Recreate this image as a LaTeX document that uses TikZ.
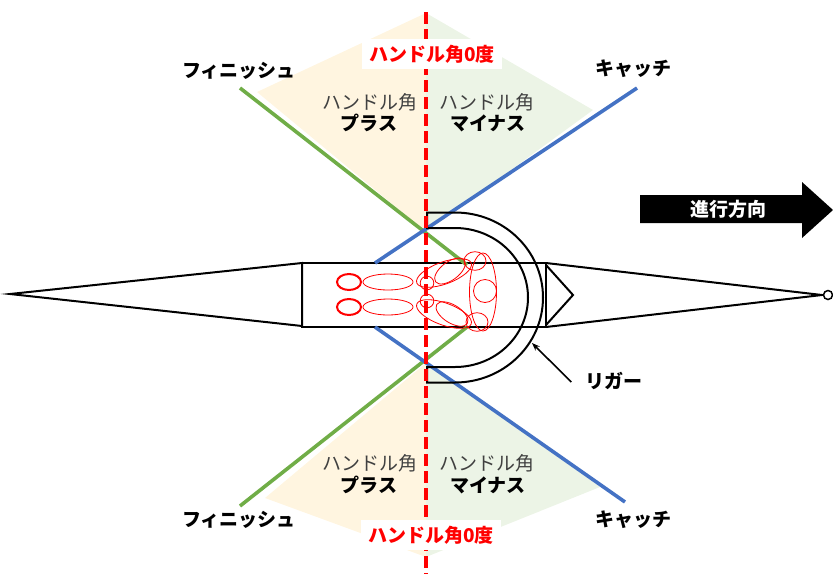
\documentclass[tikz,border=0pt]{standalone}
\usepackage{fontspec}
\setmainfont{Noto Sans CJK JP}
\usetikzlibrary{arrows.meta}
\definecolor{oargreen}{RGB}{112,173,71}
\definecolor{oarblue}{RGB}{68,114,196}
\definecolor{plusfill}{RGB}{255,245,224}
\definecolor{minusfill}{RGB}{236,244,230}
\definecolor{zerored}{RGB}{255,0,0}
\begin{document}
\begin{tikzpicture}[x=1pt,y=-1pt,
  hull/.style={draw=black,line width=2pt},
  oar/.style={line width=3.6pt},
  limb/.style={draw=zerored,line width=0.8pt},
  foot/.style={draw=zerored,line width=2pt},
  boldlbl/.style={font=\fontsize{19}{22}\selectfont\bfseries,inner sep=0pt},
  zonelbl/.style={font=\fontsize{19}{22}\selectfont,text=black!75,inner sep=0pt},
  zerolbl/.style={font=\fontsize{19}{22}\selectfont\bfseries,text=zerored,fill=white,inner xsep=7pt,inner ysep=5.5pt},
  pointer/.style={-{Stealth[length=8pt,width=6pt]},line width=1.6pt}]
\useasboundingbox (0,0) rectangle (833,574);

% handle-angle zones
\fill[plusfill]  (426,13) -- (257,92) -- (426,232) -- cycle;
\fill[minusfill] (426,13) -- (593,110) -- (426,232) -- cycle;
\fill[plusfill]  (426,557) -- (265,498) -- (426,363) -- cycle;
\fill[minusfill] (426,557) -- (600,487) -- (426,363) -- cycle;

% hull: stern, cockpit, bow
\draw[hull] (302,263) -- (10,294) -- (302,326) -- cycle;
\draw[hull] (302,263) rectangle (546,327);
\draw[hull] (546,263) -- (822,295) -- (546,327);
\draw[hull] (546,265) -- (573,295) -- (546,325);
\draw[line width=1.5pt,fill=white] (828,295) circle (4.5);

% oars at the finish (green) and at the catch (blue)
\draw[oar,oargreen] (240,88) -- (467,265);
\draw[oar,oarblue]  (637,88) -- (375,263);
\draw[oar,oargreen] (240,506) -- (467,327);
\draw[oar,oarblue]  (625,502) -- (375,327);

% rigger
\draw[hull] (427,212.5) -- (455,212.5)
  arc[start angle=-90,end angle=90,x radius=88,y radius=85]
  -- (427,382.5) -- (427,367)
  -- (455,367) arc[start angle=90,end angle=-90,x radius=73,y radius=69.5]
  -- (427,228) -- cycle;
\coordinate (riggerpt) at (532,343);

% rower seen from above
\draw[foot] (349,282) ellipse[x radius=12,y radius=8];
\draw[foot] (349,307) ellipse[x radius=12,y radius=8];
\draw[limb] (388,282) ellipse[x radius=25,y radius=8];
\draw[limb] (388,307) ellipse[x radius=25,y radius=8];
\draw[limb,rotate around={20:(444,273)}] (444,273) ellipse[x radius=29,y radius=11];
\draw[limb,rotate around={-20:(444,314)}] (444,314) ellipse[x radius=29,y radius=11];
\draw[limb] (427,283) circle (6.8);
\draw[limb] (427,301) circle (6.8);
\draw[limb,rotate around={37:(450,271)}] (450,271) ellipse[x radius=18,y radius=9];
\draw[limb,rotate around={-32:(452,314)}] (452,314) ellipse[x radius=18,y radius=9];
\draw[limb] (483,292) ellipse[x radius=13.5,y radius=39];
\draw[limb] (475,261) ellipse[x radius=11,y radius=9.3];
\draw[limb] (477,322) ellipse[x radius=11,y radius=9.3];
\draw[limb] (485,291) circle (11.5);

% zero handle-angle line
\coordinate (zerotop) at (426,12);
\coordinate (zerobot) at (426,574);
\draw[zerored,line width=4pt,dash pattern=on 12pt off 5pt] (zerotop) -- (zerobot);

% labels
\node[boldlbl] (finishtop) at (239,71) {フィニッシュ};
\node[boldlbl] (catchtop) at (633,69) {キャッチ};
\node[zerolbl] (zerotoplbl) at (432,54) {ハンドル角0度};
\node[zonelbl] (plustop) at (370,102) {ハンドル角};
\node[boldlbl] (plustopb) at (369,123) {プラス};
\node[zonelbl] (minustop) at (487,102) {ハンドル角};
\node[boldlbl] (minustopb) at (488,123) {マイナス};

\node[zonelbl] (plusbot) at (370,463) {ハンドル角};
\node[boldlbl] (plusbotb) at (369,485) {プラス};
\node[zonelbl] (minusbot) at (487,463) {ハンドル角};
\node[boldlbl] (minusbotb) at (488,485) {マイナス};
\node[boldlbl] (finishbot) at (239,520) {フィニッシュ};
\node[boldlbl] (catchbot) at (633,520) {キャッチ};
\node[zerolbl] (zerobotlbl) at (431,535) {ハンドル角0度};

% direction of travel
\fill[black] (640,195) -- (802,195) -- (802,182) -- (833,210) -- (802,238) -- (802,223) -- (640,223) -- cycle;
\node[boldlbl,text=white] (heading) at (728,209) {進行方向};

% rigger callout
\node[boldlbl] (rigger) at (614,381) {リガー};
\draw[pointer] ([xshift=-14pt,yshift=-1pt]rigger.west) -- (riggerpt);
\end{tikzpicture}
\end{document}
